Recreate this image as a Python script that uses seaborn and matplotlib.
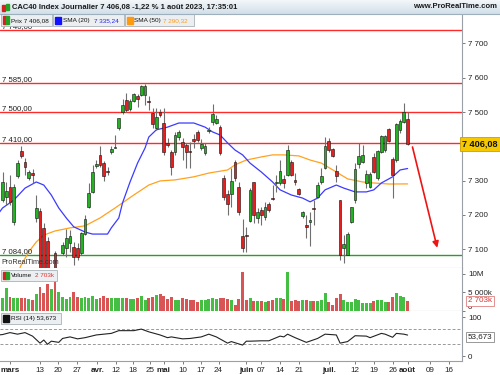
import numpy as np
import pandas as pd
import matplotlib
matplotlib.use('Agg')
import matplotlib.pyplot as plt
import seaborn as sns
from matplotlib.patches import Rectangle

sns.set_theme(style='white')
plt.rcParams['font.family'] = ['Liberation Sans', 'DejaVu Sans']

# ---------------- data ----------------
bar_idx = list(range(-2, 107))
opens = [7244, 7253, 7280, 7180, 7312, 7386, 7355, 7307, 7321, 7192,
         7211, 7163, 7125, 6900, 7088, 6930, 7088, 7104, 7119, 7107,
         7103, 7090, 7144, 7224, 7268, 7342, 7375, 7350, 7329, 7382,
         7396, 7452, 7501, 7535, 7508, 7532, 7546, 7550, 7550, 7532,
         7496, 7452, 7501, 7467, 7409, 7382, 7384, 7428, 7414, 7404,
         7383, 7421, 7443, 7396, 7380, 7444, 7470, 7467, 7455, 7307,
         7261, 7261, 7353, 7280, 7137, 7140, 7183, 7295, 7192, 7214,
         7195, 7231, 7247, 7292, 7292, 7304, 7316, 7353, 7302, 7275,
         7198, 7167, 7180, 7217, 7253, 7295, 7338, 7416, 7392, 7327,
         7242, 7103, 7083, 7178, 7242, 7348, 7353, 7292, 7282, 7370,
         7307, 7384, 7389, 7451, 7363, 7360, 7448, 7472, 7480]
highs = [7324, 7297, 7316, 7290, 7360, 7402, 7365, 7331, 7334, 7258,
         7220, 7175, 7135, 7030, 7095, 7035, 7122, 7159, 7156, 7122,
         7117, 7151, 7200, 7292, 7346, 7360, 7402, 7357, 7341, 7402,
         7433, 7484, 7538, 7555, 7538, 7555, 7552, 7579, 7583, 7548,
         7511, 7511, 7508, 7511, 7423, 7389, 7443, 7448, 7423, 7409,
         7414, 7435, 7448, 7421, 7409, 7457, 7522, 7491, 7462, 7316,
         7273, 7336, 7360, 7297, 7188, 7166, 7278, 7297, 7219, 7224,
         7239, 7239, 7287, 7316, 7360, 7316, 7404, 7360, 7321, 7278,
         7210, 7200, 7209, 7244, 7295, 7336, 7428, 7423, 7396, 7346,
         7243, 7142, 7151, 7224, 7350, 7409, 7404, 7331, 7326, 7380,
         7389, 7433, 7433, 7454, 7370, 7467, 7480, 7525, 7499]
lows = [7239, 7229, 7230, 7170, 7307, 7365, 7316, 7302, 7292, 7180,
        6990, 6950, 6870, 6850, 6900, 6880, 7083, 7078, 7093, 7054,
        7068, 7083, 7142, 7219, 7263, 7336, 7341, 7299, 7316, 7377,
        7394, 7448, 7493, 7501, 7503, 7528, 7516, 7548, 7521, 7506,
        7452, 7448, 7486, 7375, 7399, 7316, 7375, 7418, 7360, 7338,
        7336, 7394, 7414, 7389, 7375, 7438, 7462, 7464, 7375, 7244,
        7200, 7224, 7300, 7200, 7093, 7093, 7180, 7175, 7175, 7171,
        7185, 7208, 7243, 7268, 7287, 7278, 7312, 7312, 7287, 7258,
        7190, 7132, 7108, 7171, 7250, 7290, 7334, 7384, 7370, 7297,
        7069, 7059, 7083, 7175, 7234, 7336, 7350, 7278, 7278, 7321,
        7302, 7380, 7384, 7414, 7250, 7355, 7440, 7467, 7404]
closes = [7295, 7270, 7237, 7282, 7350, 7373, 7339, 7324, 7316, 7221,
          7010, 6980, 6885, 6925, 6925, 7013, 7112, 7132, 7139, 7078,
          7078, 7146, 7188, 7265, 7324, 7348, 7346, 7314, 7326, 7392,
          7398, 7482, 7521, 7506, 7532, 7552, 7538, 7577, 7577, 7530,
          7464, 7486, 7491, 7382, 7404, 7341, 7433, 7441, 7399, 7384,
          7382, 7415, 7418, 7407, 7402, 7446, 7493, 7480, 7380, 7253,
          7231, 7300, 7307, 7209, 7103, 7139, 7273, 7200, 7209, 7200,
          7222, 7214, 7246, 7292, 7328, 7292, 7389, 7316, 7297, 7261,
          7207, 7166, 7185, 7216, 7287, 7314, 7402, 7389, 7372, 7312,
          7083, 7114, 7144, 7222, 7333, 7372, 7375, 7318, 7318, 7326,
          7386, 7431, 7430, 7416, 7316, 7464, 7475, 7499, 7406.08]
volume_m = [3.6, 6.1, 3.9, 3.4, 3.4, 3.4, 3.4, 3.2, 3.0, 4.6,
            6.4, 4.8, 7.3, 5.9, 8.6, 5.2, 3.9, 3.2, 3.7, 5.2,
            3.7, 3.4, 3.7, 3.4, 4.1, 3.2, 3.4, 4.0, 3.6, 3.4,
            3.6, 3.6, 3.6, 3.4, 3.2, 3.2, 3.4, 4.1, 3.0, 3.6,
            3.9, 4.3, 4.6, 4.1, 3.2, 3.8, 3.1, 3.0, 3.4, 3.2,
            2.9, 3.0, 2.5, 2.9, 2.9, 3.2, 3.6, 3.2, 3.4, 3.6,
            3.2, 3.0, 1.6, 3.2, 10.6, 3.0, 3.4, 2.7, 2.7, 2.7,
            2.3, 2.7, 3.0, 3.4, 3.4, 3.2, 10.4, 2.7, 3.0, 2.7,
            3.0, 3.0, 2.7, 2.7, 2.7, 3.0, 4.8, 2.5, 1.6, 3.4,
            4.5, 3.0, 2.5, 2.5, 3.2, 3.0, 2.1, 2.1, 2.1, 2.7,
            3.0, 3.0, 2.3, 2.5, 3.9, 4.8, 4.1, 3.7, 2.703]

sma20_idx = [-3, -2, 1, 4, 7, 9, 11, 13, 15, 17, 20, 22, 26, 27, 29, 30, 32, 34, 36, 37,
             39, 42, 45, 49, 52, 54, 56, 58, 60, 62, 64, 67, 70, 72, 75, 78, 80, 82, 84,
             87, 89, 92, 95, 97, 99, 102, 104, 106]
sma20_val = [7205, 7220, 7243, 7278, 7296, 7287, 7258, 7220, 7191, 7165, 7150, 7144, 7144,
             7162, 7191, 7235, 7296, 7351, 7395, 7427, 7448, 7456, 7468, 7468, 7456, 7442,
             7433, 7410, 7389, 7375, 7351, 7325, 7296, 7273, 7258, 7249, 7238, 7249, 7273,
             7287, 7278, 7267, 7267, 7273, 7293, 7311, 7331, 7335.24]
sma50_idx = [2, 3, 5, 7, 9, 12, 16, 20, 24, 28, 33, 37, 40, 44, 49, 53, 58, 60, 63, 67,
             70, 73, 77, 80, 83, 87, 90, 94, 97, 101, 106]
sma50_val = [7030, 7054, 7092, 7121, 7141, 7153, 7162, 7168, 7191, 7220, 7258, 7287, 7299,
             7302, 7311, 7322, 7331, 7346, 7360, 7369, 7375, 7375, 7372, 7360, 7351, 7325,
             7305, 7296, 7293, 7290, 7290.32]
rsi_idx = [-3, -2, 0, 2, 4, 6, 8, 9, 10, 11, 13, 14, 16, 18, 20, 23, 27, 29, 33, 35, 37, 40,
           42, 43, 46, 48, 51, 53, 55, 58, 59, 62, 63, 64, 67, 69, 72, 73, 74, 76, 79, 82,
           84, 87, 88, 90, 92, 95, 96, 99, 100, 102, 103, 105, 106]
rsi_val = [54, 55, 60, 56, 60, 51, 33, 41, 30, 38, 35, 45, 49, 44, 47, 54, 58, 65, 65, 69,
           62, 54, 47, 49, 44, 45, 49, 56, 49, 33, 37, 28, 38, 38, 39, 39, 51, 49, 56, 47,
           35, 45, 56, 54, 33, 37, 52, 51, 47, 58, 56, 48, 58, 56, 53.673]

h_levels_red = [7740, 7585, 7500, 7410]
h_level_green = 7084
tick_pos = [0, 8, 12.8, 17.9, 23.3, 28.3, 32.7, 37.3, 41, 46, 50.8, 55.6, 63, 67,
            72, 77, 85, 92, 97, 102, 106, 112, 117]
tick_lab = ['mars', '13', '20', '27', 'avr.', '12', '18', '25', 'mai', '10', '17', '24',
            'juin', '07', '14', '21', 'juil.', '12', '19', '26', 'août', '09', '16']
bold_labels = {'mars', 'avr.', 'mai', 'juin', 'juil.', 'août'}

df = pd.DataFrame({'i': bar_idx, 'o': opens, 'h': highs, 'l': lows, 'c': closes,
                   'v': np.array(volume_m) * 1e6})
df['up'] = df['c'] >= df['o']

# ---------------- figure ----------------
W, H = 500, 375
fig = plt.figure(figsize=(5, 3.75), dpi=100)
fig.patch.set_facecolor('white')

def fy(py):
    return 1 - py / H

XR = 462
xlim = (-2.67, 120.5)
ax_p = fig.add_axes([0, fy(268), XR / W, (268 - 14) / H])
ax_v = fig.add_axes([0, fy(311), XR / W, (311 - 268) / H])
ax_r = fig.add_axes([0, fy(361), XR / W, (361 - 311) / H])

GREEN = '#22b322'
RED = '#e41f1f'
GRID = '#9aa0a6'
TF = 5.8
for ax in (ax_p, ax_v, ax_r):
    ax.set_xlim(*xlim)
    ax.set_facecolor('white')
    ax.spines['left'].set_visible(False)
    for s in ('right', 'top', 'bottom'):
        ax.spines[s].set_color(GRID)
        ax.spines[s].set_linewidth(0.8)
    ax.yaxis.tick_right()
    ax.tick_params(axis='y', which='both', length=2.5, width=0.6, color='#666',
                   labelsize=TF, pad=2, labelcolor='#222', left=False, right=True)
    ax.tick_params(axis='x', bottom=False, labelbottom=False)
    ax.grid(False)

# ---- price panel ----
ax_p.set_ylim(7045, 7786)
def fmt_level(v):
    return f"{v:,.2f}".replace(',', ' ').replace('.', ',')
for lvl in h_levels_red:
    ax_p.axhline(lvl, color='#ff2a2a', lw=1.0, zorder=1)
    ax_p.text(-2.2, lvl + 5, fmt_level(lvl), fontsize=5.6, color='#222',
              va='baseline', ha='left', zorder=6)
ax_p.axhline(h_level_green, color='#2e9b2e', lw=1.0, zorder=1)
ax_p.text(-2.2, h_level_green + 5, fmt_level(h_level_green), fontsize=5.6, color='#222',
          va='baseline', ha='left', zorder=6)

sns.lineplot(x=sma50_idx, y=sma50_val, ax=ax_p, color='#ffa21f', lw=0.9, zorder=2)
sns.lineplot(x=sma20_idx, y=sma20_val, ax=ax_p, color='#3b3bff', lw=0.9, zorder=2)

ax_p.vlines(df['i'], df['l'], df['h'], color='#6f6f6f', lw=0.8, zorder=3)
body_h = (df['c'] - df['o']).abs().clip(lower=3)
body_b = df[['o', 'c']].min(axis=1)
ax_p.bar(df['i'], body_h, bottom=body_b, width=0.74,
         color=np.where(df['up'], GREEN, RED), edgecolor='#111', lw=0.4, zorder=4)

ax_p.annotate('', xy=(113.9, 7104), xytext=(107.3, 7398),
              arrowprops=dict(arrowstyle='-|>', color='#ee1414', lw=1.2,
                              mutation_scale=9, shrinkA=0, shrinkB=0), zorder=7)
ax_p.text(-2.4, 7062, 'ProRealTime.com', fontsize=5.2, color='#333', va='center', zorder=6)

pt = [7100, 7200, 7300, 7500, 7600, 7700]
ax_p.set_yticks(pt)
ax_p.set_yticklabels([f"{v:,}".replace(',', ' ') for v in pt])
ax_p.spines['top'].set_visible(False)

# ---- volume panel ----
ax_v.bar(df['i'], df['v'], width=0.78,
         color=np.where(df['up'], '#44bf44', '#d95454'), edgecolor='none', zorder=3)
ax_v.set_ylim(0, 11.6e6)
ax_v.set_yticks([0, 5e6, 10e6])
ax_v.set_yticklabels(['0', '5 000k', '10M'])
ax_v.get_yticklabels()[0].set_va('bottom')
ax_v.spines['top'].set_visible(False)

# ---- RSI panel ----
ax_r.set_ylim(-12.8, 115.4)
ax_r.axhline(70, color='#999', lw=0.7, ls=(0, (3, 2)))
ax_r.axhline(30, color='#999', lw=0.7, ls=(0, (3, 2)))
sns.lineplot(x=rsi_idx, y=rsi_val, ax=ax_r, color='#222', lw=0.8)
ax_r.set_yticks([0, 100])
ax_r.set_yticklabels(['0', '100'])
ax_r.set_xticks(tick_pos)
ax_r.set_xticklabels(tick_lab)
ax_r.tick_params(axis='x', bottom=True, labelbottom=True, length=2.5, width=0.6,
                 color='#666', labelsize=5.8, pad=1.5, labelcolor='#222')
for t in ax_r.get_xticklabels():
    if t.get_text() in bold_labels:
        t.set_fontweight('bold')
ax_r.spines['top'].set_visible(False)
for ax in (ax_p, ax_v, ax_r):
    ax.set_xlabel('')
    ax.set_ylabel('')

# ---------------- header & legend boxes (figure level) ----------------
grad = np.linspace(0, 1, 50).reshape(-1, 1)
ax_h = fig.add_axes([0, fy(14), 1, 14 / H])
ax_h.imshow(grad, aspect='auto', cmap=matplotlib.colors.LinearSegmentedColormap.from_list(
    'g', ['#f3f7fa', '#d2dfe9']), extent=(0, 1, 0, 1))
ax_h.set_axis_off()
fig.add_artist(plt.Line2D([0, 1], [fy(14), fy(14)], color='#9fb0bd', lw=0.8))
fig.add_artist(Rectangle((2 / W, fy(11)), 2.5 / W, 6 / H, color='#d82020'))
fig.add_artist(Rectangle((6 / W, fy(10)), 2.5 / W, 6 / H, color='#25a025'))
fig.text(12 / W, fy(7), 'CAC40 Index Journalier 7 406,08 -1,22 % 1 août 2023, 17:35:01',
         fontsize=5.5, fontweight='bold', color='#1a1a1a', va='center', ha='left')
fig.text(497 / W, fy(7), 'www.ProRealTime.com', fontsize=5.5, fontweight='bold',
         color='#1a1a1a', va='center', ha='right')


def legend_box(x0, x1, y0, y1):
    fig.add_artist(Rectangle((x0 / W, fy(y1)), (x1 - x0) / W, (y1 - y0) / H,
                             facecolor='#eceff1', edgecolor='#a9b1b8', lw=0.6))

LF = 4.6
legend_box(1, 52, 14, 26)
fig.add_artist(Rectangle((3 / W, fy(24)), 3 / W, 8 / H, color='#d82020'))
fig.add_artist(Rectangle((6 / W, fy(24)), 3 / W, 8 / H, color='#25a025'))
fig.text(11 / W, fy(20.5), 'Prix 7 406,08', fontsize=LF, color='#111', va='center')
legend_box(53, 124, 14, 26)
fig.add_artist(Rectangle((55 / W, fy(23.5)), 6 / W, 6 / H, color='#1111ff'))
fig.text(63 / W, fy(20.5), 'SMA (20)', fontsize=LF, color='#111', va='center')
fig.text(94 / W, fy(20.5), '7 335,24', fontsize=LF, color='#2222ee', va='center')
legend_box(125, 194, 14, 26)
fig.add_artist(Rectangle((127 / W, fy(23.5)), 6 / W, 6 / H, color='#ff9a10'))
fig.text(134 / W, fy(20.5), 'SMA (50)', fontsize=LF, color='#111', va='center')
fig.text(163 / W, fy(20.5), '7 290,32', fontsize=LF, color='#ff9a10', va='center')

legend_box(1, 57, 270, 281)
fig.add_artist(Rectangle((3 / W, fy(279)), 3 / W, 7 / H, color='#d82020'))
fig.add_artist(Rectangle((6 / W, fy(279)), 3 / W, 7 / H, color='#25a025'))
fig.text(11 / W, fy(275.5), 'Volume', fontsize=LF, color='#111', va='center')
fig.text(35 / W, fy(275.5), '2 703k', fontsize=LF, color='#e03030', va='center')

legend_box(1, 61, 313, 324)
fig.add_artist(Rectangle((3 / W, fy(322)), 6 / W, 7 / H, color='#111'))
fig.text(11 / W, fy(318.5), 'RSI (14) 53,673', fontsize=LF, color='#111', va='center')

# right-side value boxes
fig.text(480 / W, fy(144), '7 406,08', fontsize=6.6, fontweight='bold', color='#111',
         ha='center', va='center',
         bbox=dict(boxstyle='square,pad=0.25', facecolor='#f6c800', edgecolor='#c9a000', lw=0.6))
fig.text(480 / W, fy(301), '2 703k', fontsize=5.8, color='#e03030', ha='center', va='center',
         bbox=dict(boxstyle='square,pad=0.2', facecolor='white', edgecolor='#e08080', lw=0.6))
fig.text(480 / W, fy(337), '53,673', fontsize=5.8, color='#222', ha='center', va='center',
         bbox=dict(boxstyle='square,pad=0.2', facecolor='white', edgecolor='#888', lw=0.6))

fig.savefig('out.png', dpi=100, facecolor='white')
